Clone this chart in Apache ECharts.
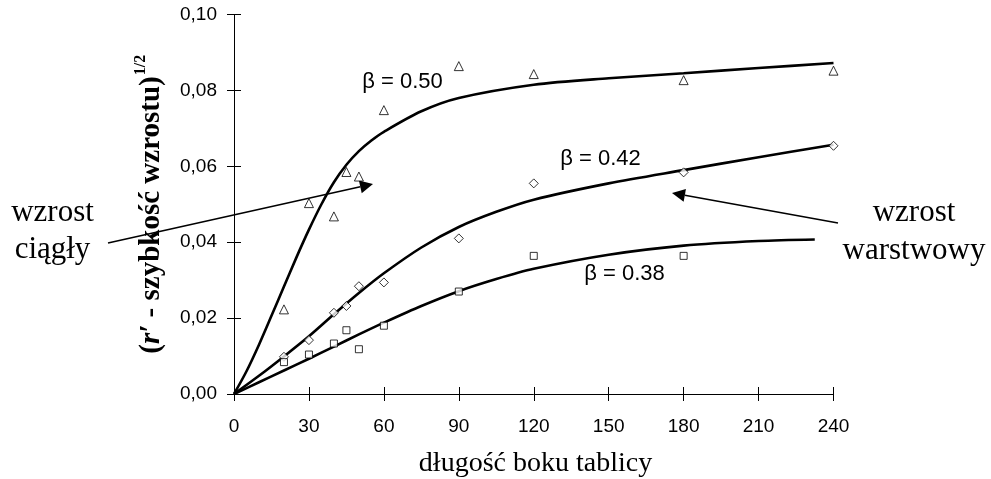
<!DOCTYPE html>
<html><head><meta charset="utf-8">
<script src="https://cdn.jsdelivr.net/npm/echarts@6/dist/echarts.min.js"></script>
<style>html,body{margin:0;padding:0;background:#fff}#c{width:991px;height:479px}</style>
</head><body><div id="c"></div>
<script>
// measured points
const triX = [20, 30, 40, 45, 50, 60, 90, 120, 180, 240];
const triY = [0.0223, 0.0503, 0.0468, 0.0585, 0.0573, 0.0748, 0.0864, 0.0843, 0.0827, 0.0852];
const diaX = [20, 30, 40, 45, 50, 60, 90, 120, 180, 240];
const diaY = [0.0098, 0.0142, 0.0214, 0.0232, 0.0284, 0.0294, 0.0410, 0.0555, 0.0584, 0.0654];
const sqX = [20, 30, 40, 45, 50, 60, 90, 120, 180];
const sqY = [0.0084, 0.0104, 0.0133, 0.0168, 0.0118, 0.0180, 0.0270, 0.0364, 0.0364];
// fitted curves
const fit50X = [0, 5, 10, 15, 20, 25, 30, 35, 40, 45, 50, 55, 60, 75, 90, 120, 150, 180, 210, 240];
const fit50Y = [0, 0.0060, 0.0130, 0.0206, 0.0283, 0.0360, 0.0433, 0.0500, 0.0558, 0.0604, 0.0640, 0.0668, 0.0691, 0.0745, 0.0780, 0.0815, 0.0832, 0.0845, 0.0859, 0.0872];
const fit42X = [0, 10, 20, 30, 40, 50, 60, 75, 90, 105, 120, 150, 180, 210, 240];
const fit42Y = [0, 0.0048, 0.0099, 0.0152, 0.0210, 0.0266, 0.0318, 0.0386, 0.0440, 0.0480, 0.0512, 0.0555, 0.0590, 0.0624, 0.0657];
const fit38X = [0, 10, 20, 30, 40, 50, 60, 75, 90, 105, 120, 150, 180, 210, 232.5];
const fit38Y = [0, 0.0031, 0.0062, 0.0093, 0.0125, 0.0157, 0.0188, 0.0232, 0.0271, 0.0303, 0.0330, 0.0367, 0.0391, 0.0403, 0.0407];
const betaLabels = ['β = 0.50', 'β = 0.42', 'β = 0.38'];
const xTitle = 'długość boku tablicy';
const yTitle = '({i|r′} - szybkość wzrostu)';
const ySup = '1/2';
const leftNote = ['wzrost', 'ciągły'];
const rightNote = ['wzrost', 'warstwowy'];

const zip = (xs, ys) => xs.map((x, i) => [x, ys[i]]);
const SANS = '"Liberation Sans", Arial, sans-serif';
const SERIF = '"Liberation Serif", "Times New Roman", serif';

function arrow(x1, y1, x2, y2) {
  const dx = x2 - x1, dy = y2 - y1, L = Math.hypot(dx, dy), ux = dx / L, uy = dy / L;
  const hl = 13, hw = 6.5;
  const bx = x2 - ux * hl, by = y2 - uy * hl;
  return [
    { type: 'line', shape: { x1: x1, y1: y1, x2: bx, y2: by }, style: { stroke: '#000', lineWidth: 1.6 } },
    { type: 'polygon', shape: { points: [[x2, y2], [bx - uy * hw, by + ux * hw], [bx + uy * hw, by - ux * hw]] }, style: { fill: '#000' } }
  ];
}
function txt(x, y, text, font, extra) {
  return Object.assign({
    type: 'text', x: x, y: y,
    style: { text: text, font: font, fill: '#000', align: 'center', verticalAlign: 'middle', textAlign: 'center', textVerticalAlign: 'middle' }
  }, extra || {});
}

const chart = echarts.init(document.getElementById('c'), null, { renderer: 'canvas' });
const fmt = v => v.toFixed(2).replace('.', ',');
const axisCommon = { type: 'value', splitLine: { show: false } };
const markerStyle = { color: '#fff', borderColor: '#000', borderWidth: 1 };
const curveStyle = { color: '#000', width: 2.6 };
const curveSeries = (xs, ys) => ({
  type: 'line', data: zip(xs, ys), smooth: 0.3,
  showSymbol: false, lineStyle: curveStyle, z: 2
});

const option = {
  animation: false,
  backgroundColor: '#fff',
  grid: { left: 234, right: 157.5, top: 14.5, bottom: 85, containLabel: false },
  xAxis: [
    Object.assign({}, axisCommon, {
      min: 0, max: 240, interval: 30, position: 'bottom',
      axisLine: { lineStyle: { color: '#000', width: 1 } },
      axisTick: { length: 7, lineStyle: { color: '#000', width: 1 } },
      axisLabel: { margin: 23, color: '#000', fontSize: 19, fontFamily: SANS }
    }),
    Object.assign({}, axisCommon, {
      min: 0, max: 240, interval: 30, position: 'bottom',
      axisLine: { show: false },
      axisTick: { inside: true, length: 7, lineStyle: { color: '#000', width: 1 } },
      axisLabel: { show: false }
    })
  ],
  yAxis: [
    Object.assign({}, axisCommon, {
      min: 0, max: 0.1, interval: 0.02, position: 'left',
      axisLine: { show: true, lineStyle: { color: '#000', width: 1 } },
      axisTick: { show: true, length: 7, lineStyle: { color: '#000', width: 1 } },
      axisLabel: { margin: 17, color: '#000', fontSize: 19, fontFamily: SANS, formatter: fmt }
    }),
    Object.assign({}, axisCommon, {
      min: 0, max: 0.1, interval: 0.02, position: 'left',
      axisLine: { show: false },
      axisTick: { show: true, inside: true, length: 7, lineStyle: { color: '#000', width: 1 } },
      axisLabel: { show: false }
    })
  ],
  series: [
    curveSeries(fit50X, fit50Y),
    curveSeries(fit42X, fit42Y),
    curveSeries(fit38X, fit38Y),
    { type: 'scatter', data: zip(triX, triY), symbol: 'triangle', symbolSize: 9, itemStyle: markerStyle, z: 3 },
    { type: 'scatter', data: zip(diaX, diaY), symbol: 'diamond', symbolSize: [9, 9], itemStyle: markerStyle, z: 3 },
    { type: 'scatter', data: zip(sqX, sqY), symbol: 'rect', symbolSize: 7, itemStyle: markerStyle, z: 3 }
  ],
  graphic: [].concat(
    arrow(108, 243, 373, 184),
    arrow(838, 223, 672, 193),
    [
      txt(402.5, 81.5, betaLabels[0], '22px ' + SANS),
      txt(600.5, 158.5, betaLabels[1], '22px ' + SANS),
      txt(624.5, 274, betaLabels[2], '22px ' + SANS),
      txt(52.5, 213, leftNote[0], '31px ' + SERIF),
      txt(52.5, 250, leftNote[1], '31px ' + SERIF),
      txt(914, 213, rightNote[0], '31px ' + SERIF),
      txt(914, 251, rightNote[1], '31px ' + SERIF),
      txt(535.5, 464, xTitle, '28px ' + SERIF),
      {
        type: 'text', x: 152, y: 215, rotation: Math.PI / 2,
        style: {
          text: yTitle, font: 'bold 29px ' + SERIF, fill: '#000',
          align: 'center', verticalAlign: 'middle', textAlign: 'center', textVerticalAlign: 'middle',
          rich: { i: { fontStyle: 'italic', fontWeight: 'bold', fontSize: 29, fontFamily: SERIF, fill: '#000' } }
        }
      },
      txt(140.5, 65, ySup, 'bold 16px ' + SERIF, { rotation: Math.PI / 2 })
    ]
  )
};
chart.setOption(option);
</script>
</body></html>
